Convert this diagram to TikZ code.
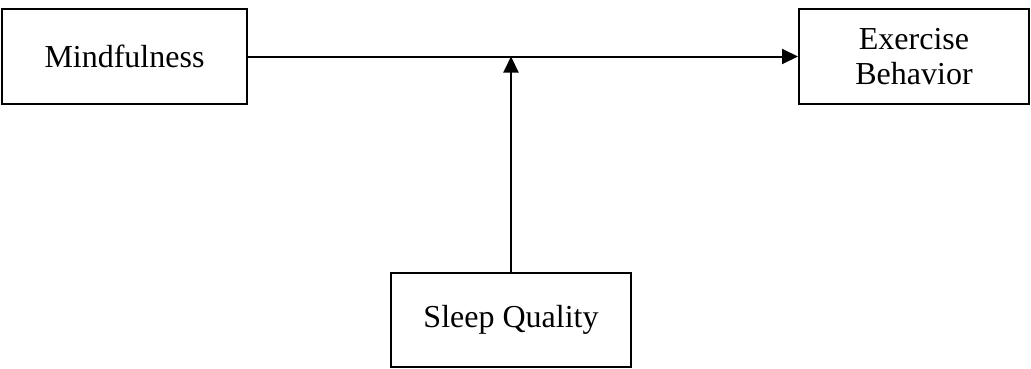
\documentclass[tikz,border=0pt]{standalone}
\usepackage{fontspec}
\setmainfont{Liberation Serif}
\usetikzlibrary{arrows.meta}
\begin{document}
\begin{tikzpicture}[x=1pt,y=1pt,
  box/.style={draw=black, line width=2pt, inner sep=0pt, align=center,
    font=\fontsize{32}{35}\selectfont, minimum height=95pt},
  link/.style={draw=black, line width=2pt, -{Triangle[length=16pt,width=15pt]}}]
  \useasboundingbox (0,0) rectangle (1031,368);
  % the three variables
  \node[box, minimum width=245pt] (mind) at (124.5,311.5) {Mindfulness};
  \node[box, minimum width=230pt] (exer) at (914,311.5) {Exercise\\Behavior};
  \node[box, minimum width=240pt, minimum height=94pt] (sleep) at (511,48) {Sleep Quality};
  % main path and moderating path
  \draw[link] (mind.east) -- (exer.west);
  \draw[link] (sleep.north) -- (sleep.north |- mind.east);
\end{tikzpicture}
\end{document}
